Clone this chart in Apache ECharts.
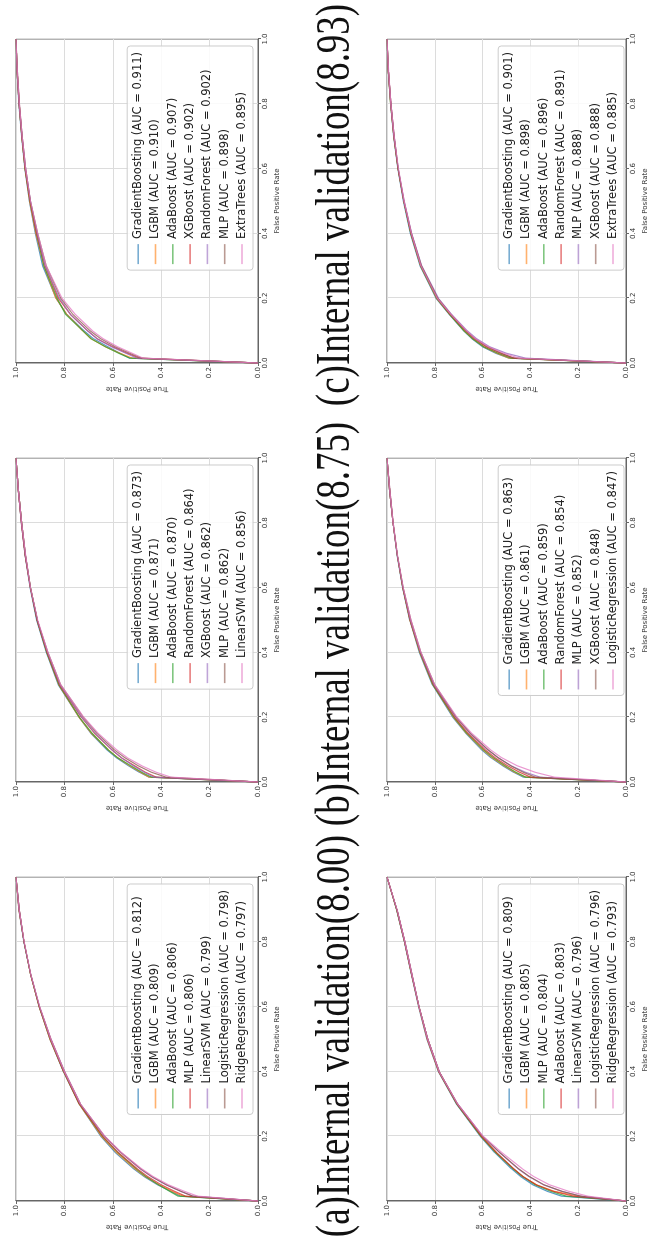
<!DOCTYPE html>
<html>
<head>
<meta charset="utf-8">
<title>ROC curves</title>
<script src="https://cdn.jsdelivr.net/npm/echarts@6/dist/echarts.min.js"></script>
<style>
html, body { margin: 0; padding: 0; background: #fff; overflow: hidden; }
/* the figure is laid out landscape and turned a quarter turn to the left */
#page { position: absolute; left: 0; top: 0; width: 1246px; height: 650px;
        transform-origin: 0 0; transform: translate(0, 1246px) rotate(-90deg); }
</style>
</head>
<body>
<div id="page"></div>
<script>
// shared false positive rate grid
var fpr = [0, 0.015, 0.03, 0.05, 0.075, 0.1, 0.15, 0.2, 0.3, 0.4, 0.5, 0.6, 0.7, 0.8, 0.9, 1];
var captions = ['(a)Internal validation(8.00)', '(b)Internal validation(8.75)', '(c)Internal validation(8.93)'];

// top row, panel a
var namesTopA = ['GradientBoosting (AUC = 0.812)', 'LGBM (AUC = 0.809)', 'AdaBoost (AUC = 0.806)', 'MLP (AUC = 0.806)',
  'LinearSVM (AUC = 0.799)', 'LogisticRegression (AUC = 0.798)', 'RidgeRegression (AUC = 0.797)'];
var tprTopA = [
  [0, 0.32, 0.36, 0.415, 0.47, 0.515, 0.59, 0.65, 0.74, 0.805, 0.86, 0.905, 0.94, 0.968, 0.988, 1],
  [0, 0.31, 0.355, 0.41, 0.465, 0.51, 0.585, 0.647, 0.74, 0.804, 0.86, 0.905, 0.94, 0.967, 0.988, 1],
  [0, 0.33, 0.365, 0.41, 0.462, 0.505, 0.58, 0.643, 0.738, 0.803, 0.858, 0.904, 0.94, 0.967, 0.987, 1],
  [0, 0.3, 0.345, 0.4, 0.455, 0.5, 0.578, 0.642, 0.738, 0.803, 0.858, 0.904, 0.94, 0.967, 0.987, 1],
  [0, 0.27, 0.32, 0.38, 0.44, 0.488, 0.568, 0.635, 0.735, 0.8, 0.857, 0.903, 0.939, 0.967, 0.987, 1],
  [0, 0.27, 0.318, 0.378, 0.438, 0.486, 0.567, 0.634, 0.734, 0.8, 0.856, 0.903, 0.939, 0.967, 0.987, 1],
  [0, 0.25, 0.305, 0.37, 0.432, 0.482, 0.565, 0.633, 0.734, 0.8, 0.856, 0.902, 0.939, 0.966, 0.987, 1]
];

// top row, panel b
var namesTopB = ['GradientBoosting (AUC = 0.873)', 'LGBM (AUC = 0.871)', 'AdaBoost (AUC = 0.870)', 'RandomForest (AUC = 0.864)',
  'XGBoost (AUC = 0.862)', 'MLP (AUC = 0.862)', 'LinearSVM (AUC = 0.856)'];
var tprTopB = [
  [0, 0.45, 0.49, 0.535, 0.585, 0.625, 0.69, 0.74, 0.825, 0.875, 0.915, 0.942, 0.962, 0.978, 0.99, 1],
  [0, 0.45, 0.485, 0.53, 0.58, 0.62, 0.688, 0.74, 0.823, 0.873, 0.913, 0.94, 0.961, 0.977, 0.99, 1],
  [0, 0.44, 0.48, 0.525, 0.58, 0.62, 0.685, 0.738, 0.822, 0.873, 0.913, 0.94, 0.961, 0.977, 0.99, 1],
  [0, 0.42, 0.465, 0.51, 0.565, 0.605, 0.675, 0.73, 0.82, 0.872, 0.913, 0.941, 0.962, 0.978, 0.99, 1],
  [0, 0.43, 0.47, 0.515, 0.565, 0.605, 0.672, 0.728, 0.818, 0.87, 0.912, 0.94, 0.961, 0.977, 0.99, 1],
  [0, 0.38, 0.44, 0.495, 0.55, 0.595, 0.665, 0.722, 0.815, 0.868, 0.912, 0.94, 0.961, 0.977, 0.99, 1],
  [0, 0.36, 0.42, 0.48, 0.54, 0.585, 0.66, 0.72, 0.815, 0.868, 0.91, 0.94, 0.96, 0.977, 0.99, 1]
];

// top row, panel c
var namesTopC = ['GradientBoosting (AUC = 0.911)', 'LGBM (AUC = 0.910)', 'AdaBoost (AUC = 0.907)', 'XGBoost (AUC = 0.902)',
  'RandomForest (AUC = 0.902)', 'MLP (AUC = 0.898)', 'ExtraTrees (AUC = 0.895)'];
var tprTopC = [
  [0, 0.53, 0.57, 0.62, 0.68, 0.72, 0.79, 0.835, 0.89, 0.92, 0.945, 0.963, 0.977, 0.988, 0.995, 1],
  [0, 0.52, 0.57, 0.63, 0.69, 0.725, 0.79, 0.835, 0.885, 0.918, 0.944, 0.962, 0.976, 0.987, 0.995, 1],
  [0, 0.53, 0.575, 0.63, 0.69, 0.725, 0.795, 0.83, 0.885, 0.915, 0.942, 0.962, 0.976, 0.987, 0.995, 1],
  [0, 0.49, 0.54, 0.6, 0.665, 0.705, 0.775, 0.825, 0.88, 0.915, 0.942, 0.962, 0.976, 0.987, 0.995, 1],
  [0, 0.5, 0.545, 0.605, 0.665, 0.705, 0.775, 0.82, 0.88, 0.913, 0.94, 0.96, 0.975, 0.987, 0.995, 1],
  [0, 0.48, 0.53, 0.59, 0.65, 0.695, 0.765, 0.815, 0.875, 0.91, 0.94, 0.96, 0.975, 0.986, 0.994, 1],
  [0, 0.475, 0.52, 0.58, 0.64, 0.685, 0.755, 0.81, 0.875, 0.91, 0.94, 0.96, 0.975, 0.986, 0.994, 1]
];

// bottom row, panel a
var namesBotA = ['GradientBoosting (AUC = 0.809)', 'LGBM (AUC = 0.805)', 'MLP (AUC = 0.804)', 'AdaBoost (AUC = 0.803)',
  'LinearSVM (AUC = 0.796)', 'LogisticRegression (AUC = 0.796)', 'RidgeRegression (AUC = 0.793)'];
var tprBotA = [
  [0, 0.27, 0.33, 0.39, 0.44, 0.48, 0.55, 0.61, 0.71, 0.785, 0.833, 0.868, 0.898, 0.927, 0.96, 1],
  [0, 0.2, 0.3, 0.375, 0.43, 0.472, 0.545, 0.607, 0.708, 0.784, 0.832, 0.867, 0.897, 0.926, 0.96, 1],
  [0, 0.25, 0.315, 0.38, 0.432, 0.473, 0.545, 0.607, 0.708, 0.783, 0.83, 0.866, 0.897, 0.926, 0.96, 1],
  [0, 0.22, 0.305, 0.375, 0.43, 0.47, 0.542, 0.605, 0.707, 0.783, 0.83, 0.866, 0.897, 0.926, 0.959, 1],
  [0, 0.19, 0.27, 0.345, 0.405, 0.452, 0.53, 0.6, 0.705, 0.782, 0.83, 0.866, 0.896, 0.925, 0.959, 1],
  [0, 0.19, 0.268, 0.343, 0.403, 0.45, 0.529, 0.6, 0.705, 0.782, 0.83, 0.866, 0.896, 0.925, 0.959, 1],
  [0, 0.16, 0.24, 0.32, 0.385, 0.435, 0.52, 0.598, 0.705, 0.782, 0.83, 0.866, 0.896, 0.925, 0.958, 1]
];

// bottom row, panel b
var namesBotB = ['GradientBoosting (AUC = 0.863)', 'LGBM (AUC = 0.861)', 'AdaBoost (AUC = 0.859)', 'RandomForest (AUC = 0.854)',
  'MLP (AUC = 0.852)', 'XGBoost (AUC = 0.848)', 'LogisticRegression (AUC = 0.847)'];
var tprBotB = [
  [0, 0.43, 0.47, 0.515, 0.565, 0.605, 0.67, 0.725, 0.81, 0.865, 0.905, 0.935, 0.958, 0.975, 0.989, 1],
  [0, 0.42, 0.465, 0.51, 0.56, 0.6, 0.667, 0.722, 0.808, 0.863, 0.904, 0.934, 0.957, 0.975, 0.989, 1],
  [0, 0.42, 0.46, 0.505, 0.555, 0.597, 0.665, 0.72, 0.807, 0.862, 0.903, 0.934, 0.957, 0.975, 0.989, 1],
  [0, 0.4, 0.445, 0.495, 0.548, 0.59, 0.66, 0.717, 0.805, 0.861, 0.903, 0.934, 0.957, 0.975, 0.989, 1],
  [0, 0.36, 0.42, 0.48, 0.535, 0.58, 0.653, 0.712, 0.803, 0.86, 0.902, 0.933, 0.957, 0.975, 0.989, 1],
  [0, 0.38, 0.43, 0.482, 0.535, 0.578, 0.65, 0.71, 0.8, 0.858, 0.9, 0.932, 0.956, 0.974, 0.988, 1],
  [0, 0.3, 0.38, 0.455, 0.52, 0.568, 0.645, 0.707, 0.8, 0.858, 0.9, 0.932, 0.956, 0.974, 0.988, 1]
];

// bottom row, panel c
var namesBotC = ['GradientBoosting (AUC = 0.901)', 'LGBM (AUC = 0.898)', 'AdaBoost (AUC = 0.896)', 'RandomForest (AUC = 0.891)',
  'MLP (AUC = 0.888)', 'XGBoost (AUC = 0.888)', 'ExtraTrees (AUC = 0.885)'];
var tprBotC = [
  [0, 0.49, 0.545, 0.6, 0.645, 0.68, 0.74, 0.795, 0.862, 0.902, 0.932, 0.955, 0.972, 0.985, 0.994, 1],
  [0, 0.49, 0.54, 0.595, 0.642, 0.678, 0.738, 0.793, 0.86, 0.9, 0.93, 0.954, 0.971, 0.985, 0.994, 1],
  [0, 0.48, 0.535, 0.595, 0.642, 0.678, 0.738, 0.792, 0.86, 0.9, 0.93, 0.954, 0.971, 0.985, 0.994, 1],
  [0, 0.47, 0.525, 0.585, 0.635, 0.672, 0.735, 0.79, 0.858, 0.899, 0.93, 0.954, 0.971, 0.984, 0.994, 1],
  [0, 0.42, 0.5, 0.57, 0.625, 0.665, 0.73, 0.785, 0.855, 0.897, 0.928, 0.953, 0.97, 0.984, 0.994, 1],
  [0, 0.47, 0.52, 0.58, 0.632, 0.67, 0.732, 0.788, 0.856, 0.898, 0.929, 0.953, 0.97, 0.984, 0.994, 1],
  [0, 0.45, 0.51, 0.575, 0.63, 0.668, 0.732, 0.79, 0.858, 0.898, 0.928, 0.952, 0.97, 0.984, 0.993, 1]
];

var colors = ['#1f77b4', '#ff7f0e', '#2ca02c', '#d62728', '#9467bd', '#8c564b', '#e377c2'];

var panels = [
  { names: namesTopA, tpr: tprTopA, row: 0, col: 0 },
  { names: namesTopB, tpr: tprTopB, row: 0, col: 1 },
  { names: namesTopC, tpr: tprTopC, row: 0, col: 2 },
  { names: namesBotA, tpr: tprBotA, row: 1, col: 0 },
  { names: namesBotB, tpr: tprBotB, row: 1, col: 1 },
  { names: namesBotC, tpr: tprBotC, row: 1, col: 2 }
];

var W = 1246, H = 650;
var gridLeft = [45, 464, 883];
var gridTop = [16, 387];
var gw = 324, gh = 242;

var tickFont = { fontSize: 7, color: '#333', fontFamily: 'DejaVu Sans' };

var grids = [], xAxes = [], yAxes = [], legends = [], series = [];

panels.forEach(function (p, i) {
  var L = gridLeft[p.col], T = gridTop[p.row];
  grids.push({ left: L, top: T, width: gw, height: gh, show: true,
    borderColor: '#666', borderWidth: 1, backgroundColor: 'transparent' });
  var axisBase = {
    gridIndex: i, type: 'value', min: 0, max: 1, interval: 0.2,
    nameLocation: 'middle',
    nameTextStyle: { fontSize: 7, color: '#333', fontFamily: 'DejaVu Sans' },
    axisLine: { show: true, lineStyle: { color: '#666', width: 1 } },
    axisTick: { show: true, length: 3, lineStyle: { color: '#666' } },
    axisLabel: Object.assign({ margin: 4, formatter: function (v) { return v.toFixed(1); } }, tickFont),
    splitLine: { show: true, lineStyle: { color: '#dcdcdc', width: 1 } }
  };
  xAxes.push(Object.assign({}, axisBase, { name: 'False Positive Rate', nameGap: 16 }));
  yAxes.push(Object.assign({}, axisBase, { name: 'True Positive Rate', nameGap: 22 }));
  legends.push({
    orient: 'vertical', selectedMode: false,
    right: W - (L + gw) + 7, bottom: H - (T + gh) + 5,
    data: p.names, icon: 'rect', itemWidth: 20, itemHeight: 1.6, itemGap: 3.3,
    padding: [4, 6, 4, 6],
    backgroundColor: 'rgba(255,255,255,0.85)', borderColor: '#cccccc', borderWidth: 1, borderRadius: 3,
    textStyle: { fontSize: 11.5, lineHeight: 14, color: '#222', fontFamily: 'DejaVu Sans' }
  });
  p.names.forEach(function (name, k) {
    series.push({
      name: name, type: 'line', xAxisIndex: i, yAxisIndex: i,
      symbol: 'none', silent: true, animation: false,
      lineStyle: { width: 1.2, color: colors[k], opacity: 0.75 },
      itemStyle: { color: colors[k], opacity: 0.6 },
      data: fpr.map(function (f, j) { return [f, p.tpr[k][j]]; })
    });
  });
});

// sub-figure captions, tall and narrow, with thin strokes
var captionX = [210, 622, 1041];
var graphics = captions.map(function (c, i) {
  return {
    type: 'text', x: captionX[i], y: 336, scaleX: 0.77, scaleY: 1,
    style: { text: c, fontSize: 48, fontFamily: 'Liberation Serif', fill: '#111',
      stroke: '#fff', lineWidth: 1.1, align: 'center', verticalAlign: 'middle' }
  };
});

var chart = echarts.init(document.getElementById('page'), null, { renderer: 'canvas' });
chart.setOption({
  backgroundColor: '#fff',
  animation: false,
  grid: grids,
  xAxis: xAxes,
  yAxis: yAxes,
  legend: legends,
  series: series,
  graphic: graphics
});
</script>
</body>
</html>
